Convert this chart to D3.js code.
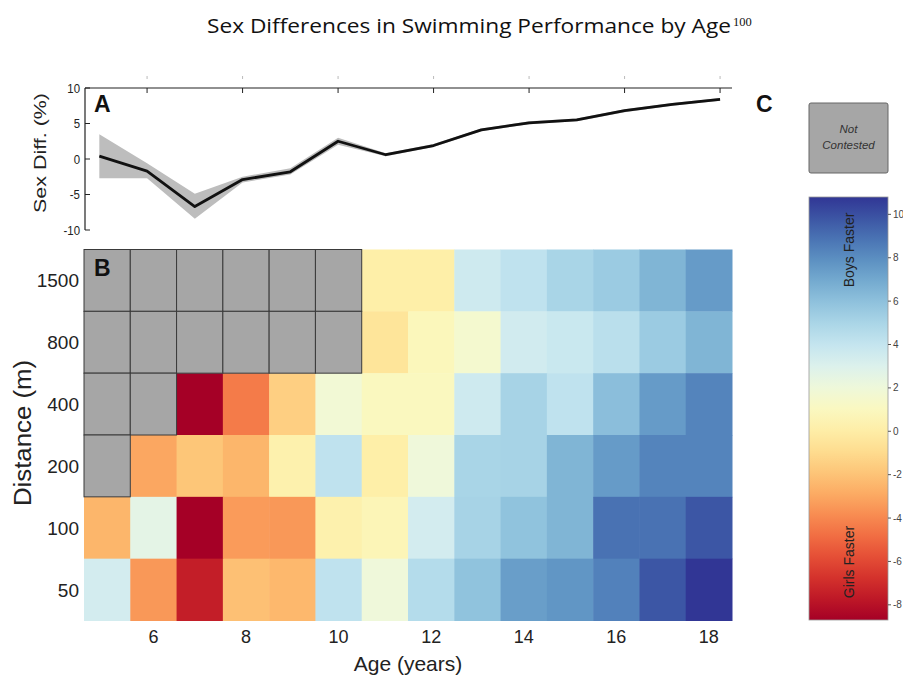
<!DOCTYPE html>
<html><head><meta charset="utf-8">
<script src="https://cdn.jsdelivr.net/npm/d3@7"></script>
<style>body{margin:0;background:#fff}svg{display:block}</style>
</head><body><svg id="c" width="903" height="677"></svg>
<script>
const ages = [5,6,7,8,9,10,11,12,13,14,15,16,17,18];
const ageTicks = [6,8,10,12,14,16,18];
const distances = ["1500","800","400","200","100","50"];
const sexDiffMean  = [0.4,-1.7,-6.7,-2.9,-1.8,2.5,0.6,1.9,4.1,5.1,5.5,6.8,7.7,8.4];
const sexDiffUpper = [3.5,-0.6,-4.9,-2.5,-1.3,3.0,0.8,2.1,4.3,5.3,5.7,7.0,7.9,8.6];
const sexDiffLower = [-2.7,-2.7,-8.4,-3.3,-2.2,2.0,0.4,1.7,3.9,4.9,5.3,6.6,7.5,8.2];
const panelATicks = [10,5,0,-5,-10];
// null = not contested
const row1500 = [null,null,null,null,null,null,0.1,0.1,3.6,4.2,5.0,5.5,6.5,7.5];
const row800  = [null,null,null,null,null,null,-0.5,0.85,1.6,3.5,3.8,4.4,5.5,6.5];
const row400  = [null,null,-8.7,-4.4,-1.5,1.8,1.0,1.0,3.6,5.1,4.2,6.1,7.5,8.3];
const row200  = [null,-3.0,-1.9,-2.5,0.3,4.2,0.1,2.0,5.0,5.1,6.5,7.5,8.3,8.3];
const row100  = [-2.5,2.6,-8.7,-3.4,-3.5,0.3,0.7,3.4,5.1,5.9,6.5,8.9,8.9,9.8];
const row50   = [3.4,-3.5,-7.5,-2.1,-2.4,4.2,2.0,4.6,5.9,7.4,7.7,8.4,9.8,10.8];
const heatRows = [row1500,row800,row400,row200,row100,row50];
const colorbarTicks = [10,8,6,4,2,0,-2,-4,-6,-8];
const colorDomain = [-8.7,10.8];

const svg = d3.select("#c");
const sans = "'Liberation Sans', Arial, sans-serif";

// Title
svg.append("text").attr("x",207).attr("y",33)
  .attr("font-family","'Open Sans', 'Noto Sans', sans-serif").attr("font-size",20.5).attr("fill","#111")
  .attr("textLength",524).attr("lengthAdjust","spacingAndGlyphs")
  .text("Sex Differences in Swimming Performance by Age");
svg.append("text").attr("x",733).attr("y",26).attr("font-family","'Liberation Serif', serif")
  .attr("font-size",12.5).attr("fill","#111").text("100");

// color scale
const color = d3.scaleSequential(d3.interpolateRdYlBu).domain(colorDomain);

// ===== Panel A =====
const ax = d3.scaleLinear().domain([4.7,18.25]).range([85,732]);
const ay = d3.scaleLinear().domain([-10,10]).range([230,88]);
const gA = svg.append("g");
const band = d3.area().x((d,i)=>ax(ages[i])).y0((d,i)=>ay(sexDiffLower[i])).y1((d,i)=>ay(sexDiffUpper[i]));
gA.append("path").datum(ages).attr("d",band).attr("fill","#bdbdbd");
const line = d3.line().x((d,i)=>ax(ages[i])).y((d,i)=>ay(sexDiffMean[i]));
gA.append("path").datum(ages).attr("d",line).attr("fill","none").attr("stroke","#111").attr("stroke-width",2.8).attr("stroke-linejoin","round");
gA.append("line").attr("x1",85).attr("x2",732).attr("y1",88).attr("y2",88).attr("stroke","#222").attr("stroke-width",1.2);
gA.append("line").attr("x1",85).attr("x2",85).attr("y1",88).attr("y2",230).attr("stroke","#222").attr("stroke-width",1.2);
gA.selectAll(".tx").data(ageTicks).join("line").attr("x1",d=>ax(d)).attr("x2",d=>ax(d)).attr("y1",88).attr("y2",93).attr("stroke","#222");
gA.selectAll(".tx2").data(ageTicks).join("line").attr("x1",d=>ax(d)).attr("x2",d=>ax(d)).attr("y1",76).attr("y2",79).attr("stroke","#bbb");
gA.selectAll(".ty").data(panelATicks).join("line").attr("x1",85).attr("x2",90).attr("y1",d=>ay(d)).attr("y2",d=>ay(d)).attr("stroke","#222");
gA.selectAll(".tyl").data(panelATicks).join("text").attr("x",80).attr("y",d=>ay(d)+5)
  .attr("text-anchor","end").attr("font-family",sans).attr("font-size",13).attr("fill","#222")
  .attr("transform",d=>`translate(${80*0.12},0) scale(0.88,1)`).text(d=>d);
gA.append("text").attr("transform","translate(46,153) rotate(-90)").attr("text-anchor","middle")
  .attr("font-family",sans).attr("font-size",17).attr("fill","#222")
  .attr("textLength",120).attr("lengthAdjust","spacingAndGlyphs").text("Sex Diff. (%)");
gA.append("text").attr("x",94).attr("y",112).attr("font-family",sans).attr("font-weight","bold").attr("font-size",23).attr("fill","#111").text("A");

// ===== Panel B =====
const bx = d3.scaleBand().domain(ages).range([84,732]);
const by = d3.scaleBand().domain(distances).range([249.5,620.5]);
const gB = svg.append("g");
const cells = [];
heatRows.forEach((row,r)=>row.forEach((v,c)=>cells.push({dist:distances[r],age:ages[c],v})));
gB.selectAll(".cell").data(cells.filter(d=>d.v!==null)).join("rect")
  .attr("x",d=>bx(d.age)).attr("y",d=>by(d.dist)).attr("width",bx.bandwidth()+0.5).attr("height",by.bandwidth()+0.5)
  .attr("fill",d=>color(d.v));
gB.selectAll(".nc").data(cells.filter(d=>d.v===null)).join("rect")
  .attr("x",d=>bx(d.age)).attr("y",d=>by(d.dist)).attr("width",bx.bandwidth()).attr("height",by.bandwidth())
  .attr("fill","#a6a6a6").attr("stroke","#3a3a3a").attr("stroke-width",1);
gB.selectAll(".yl").data(distances).join("text").attr("x",79).attr("y",d=>by(d)+by.bandwidth()/2+7).attr("text-anchor","end")
  .attr("font-family",sans).attr("font-size",19).attr("fill","#222").text(d=>d);
gB.selectAll(".xl").data(ageTicks).join("text").attr("x",d=>bx(d)+bx.bandwidth()/2).attr("y",643).attr("text-anchor","middle")
  .attr("font-family",sans).attr("font-size",18).attr("fill","#222").text(d=>d);
gB.append("text").attr("transform","translate(31,433) rotate(-90)").attr("text-anchor","middle")
  .attr("font-family",sans).attr("font-size",23).attr("fill","#222")
  .attr("textLength",146).attr("lengthAdjust","spacingAndGlyphs").text("Distance (m)");
gB.append("text").attr("x",408).attr("y",671).attr("text-anchor","middle")
  .attr("font-family",sans).attr("font-size",21).attr("fill","#222").text("Age (years)");
gB.append("text").attr("x",94).attr("y",276).attr("font-family",sans).attr("font-weight","bold").attr("font-size",23).attr("fill","#111").text("B");

// ===== Panel C =====
const gC = svg.append("g");
gC.append("text").attr("x",756).attr("y",112).attr("font-family",sans).attr("font-weight","bold").attr("font-size",23).attr("fill","#111").text("C");
gC.append("rect").attr("x",809).attr("y",103).attr("width",79).attr("height",70).attr("rx",2)
  .attr("fill","#a6a6a6").attr("stroke","#666").attr("stroke-width",1);
gC.append("text").attr("x",848.5).attr("y",133).attr("text-anchor","middle").attr("font-family",sans).attr("font-style","italic").attr("font-size",11.5).attr("fill","#333").text("Not");
gC.append("text").attr("x",848.5).attr("y",149).attr("text-anchor","middle").attr("font-family",sans).attr("font-style","italic").attr("font-size",11.5).attr("fill","#333").text("Contested");

const cy = d3.scaleLinear().domain(colorDomain).range([620,197]);
const defs = svg.append("defs");
const grad = defs.append("linearGradient").attr("id","cbar").attr("x1",0).attr("x2",0).attr("y1",1).attr("y2",0);
d3.range(0,1.0001,0.05).forEach(t=>grad.append("stop").attr("offset",t).attr("stop-color",d3.interpolateRdYlBu(t)));
gC.append("rect").attr("x",809).attr("y",197).attr("width",79).attr("height",423).attr("fill","url(#cbar)").attr("stroke","#999").attr("stroke-width",0.8);
gC.selectAll(".ct").data(colorbarTicks).join("line").attr("x1",888).attr("x2",891).attr("y1",d=>cy(d)).attr("y2",d=>cy(d)).attr("stroke","#555");
gC.selectAll(".ctl").data(colorbarTicks).join("text").attr("x",893).attr("y",d=>cy(d)+3.5)
  .attr("font-family",sans).attr("font-size",10).attr("fill","#444").text(d=>d);
gC.append("text").attr("transform","translate(854,250) rotate(-90)").attr("text-anchor","middle")
  .attr("font-family",sans).attr("font-size",14).attr("fill","#222").text("Boys Faster");
gC.append("text").attr("transform","translate(854,562) rotate(-90)").attr("text-anchor","middle")
  .attr("font-family",sans).attr("font-size",14).attr("fill","#222").text("Girls Faster");
</script></body></html>
